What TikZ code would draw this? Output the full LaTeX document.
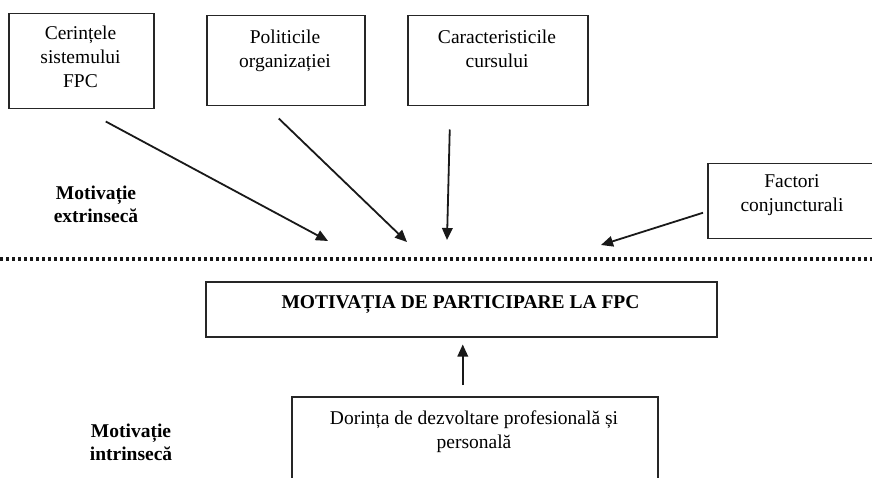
\documentclass[tikz,border=0pt]{standalone}
\usepackage{fontspec}
\setmainfont{Liberation Serif}
\usetikzlibrary{arrows.meta,calc}
\begin{document}
\begin{tikzpicture}[x=1pt,y=-1pt,
 box/.style={draw=black!85, line width=1.5pt, rectangle, inner sep=0pt, anchor=north west},
 txt/.style={font=\fontsize{19.5}{24}\selectfont, align=center, inner sep=0pt, anchor=north},
 lbl/.style={font=\bfseries\fontsize{19.5}{22.5}\selectfont, align=center, inner sep=0pt, anchor=north},
 arr/.style={line width=1.8pt, draw=black!90, -{Triangle[length=12pt,width=10.5pt]}},
 dotline/.style={line width=3pt, dash pattern=on 3.3pt off 2.7pt, draw=black!90},
]
\useasboundingbox (0,0) rectangle (872,478);
\clip (0,0) rectangle (872,478);

% boxes
\node[box, minimum width=145pt, minimum height=95pt] (b1) at (8,13) {};
\node[box, minimum width=158pt, minimum height=90pt] (b2) at (206,15) {};
\node[box, minimum width=180pt, minimum height=90pt] (b3) at (407,15) {};
\node[box, minimum width=170pt, minimum height=75pt] (b4) at (707,163) {};
\node[box, minimum width=511pt, minimum height=55pt] (bm) at (205,281) {};
\node[box, minimum width=366pt, minimum height=110pt] (bd) at (291,396) {};

% texts
\node[txt] (t1) at (80.5,25.5) {Cerințele\\sistemului\\FPC};
\node[txt] (t2) at (285,29.5) {Politicile\\organizației};
\node[txt] (t3) at (497,29.5) {Caracteristicile\\cursului};
\node[txt] (t4) at (792,174.5) {Factori\\conjuncturali};
\node[font=\bfseries\fontsize{19.5}{24}\selectfont, inner sep=0pt, anchor=base] (tm) at (460.5,308) {MOTIVAȚIA DE PARTICIPARE LA FPC};
\node[txt] (td) at (474,411) {Dorința de dezvoltare profesională și\\personală};
\node[lbl] (le) at (96,186) {Motivație\\extrinsecă};
\node[lbl] (li) at (131,424) {Motivație\\intrinsecă};

% dotted separator
\coordinate (dl) at (0,259);
\coordinate (dr) at (872,259);
\draw[dotline] (dl) -- (dr);

% arrow ends
\coordinate (e1) at (328,241);
\coordinate (e2) at (407,242);
\coordinate (e3) at (447,240);
\coordinate (e4) at (601,245);

\draw[arr] ($(b1.south)+(24.5,12)$) -- (e1);
\draw[arr] ($(b2.south)+(-7,12)$) -- (e2);
\draw[arr] ($(b3.south)+(-48,23)$) -- (e3);
\draw[arr] ($(b4.west)+(-4,11.5)$) -- (e4);
\draw[arr] ($(bd.north)+(-12,-11)$) -- ($(bm.south)+(1.5,7)$);
\end{tikzpicture}
\end{document}
